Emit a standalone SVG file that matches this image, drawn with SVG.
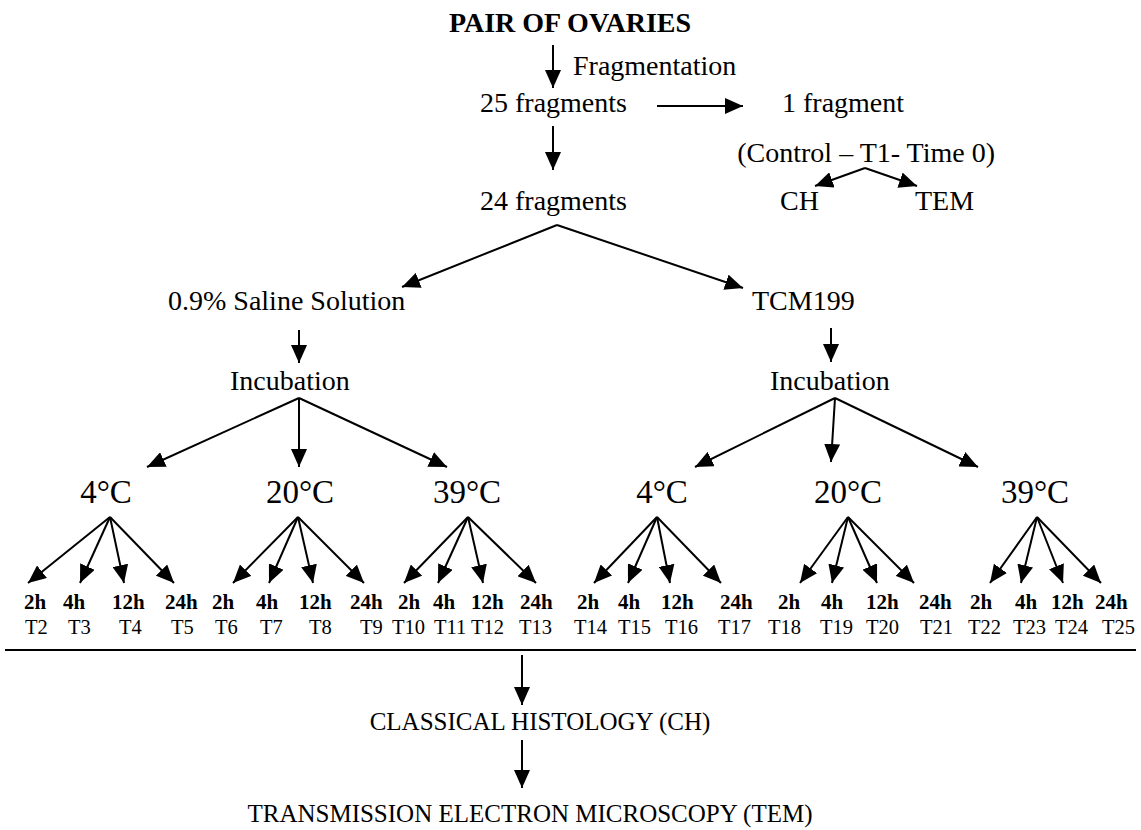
<svg xmlns="http://www.w3.org/2000/svg" width="1141" height="830" viewBox="0 0 1141 830">
<style>
text{font-family:"Liberation Serif","Times New Roman",serif;fill:#000}
.t{font-size:28px}
.ttl{font-size:28px;font-weight:bold}
.temp{font-size:33px;text-anchor:middle}
.h{font-size:21px;font-weight:bold}
.tl{font-size:20.5px}
.cap{font-size:25px;text-anchor:middle}
#connectors line{stroke:#000;stroke-width:2;marker-end:url(#ah)}
#rule{stroke:#000;stroke-width:2}
</style>
<defs>
<marker id="ah" markerUnits="userSpaceOnUse" markerWidth="18" markerHeight="16" refX="18" refY="8" orient="auto" viewBox="0 0 18 16"><path d="M0,0 L18,8 L0,16 z" fill="#000"/></marker>
</defs>
<rect width="1141" height="830" fill="#fff"/>
<g id="n-title"><text class="ttl" x="570" y="32" text-anchor="middle">PAIR OF OVARIES</text></g>
<g id="l-frag"><text class="t" x="573" y="75">Fragmentation</text></g>
<g id="n-25"><text class="t" x="480" y="112">25 fragments</text></g>
<g id="n-1"><text class="t" x="782" y="112">1 fragment</text></g>
<g id="n-control"><text class="t" x="995" y="162" text-anchor="end">(Control – T1- Time 0)</text></g>
<g id="n-ch0"><text class="t" x="780" y="210">CH</text></g>
<g id="n-tem0"><text class="t" x="915" y="210">TEM</text></g>
<g id="n-24"><text class="t" x="480" y="210">24 fragments</text></g>
<g id="n-saline"><text class="t" x="168" y="310">0.9% Saline Solution</text></g>
<g id="n-tcm"><text class="t" x="752" y="310">TCM199</text></g>
<g id="n-inc1"><text class="t" x="230" y="390">Incubation</text></g>
<g id="n-inc2"><text class="t" x="770" y="390">Incubation</text></g>
<g id="n-temps">
<text class="temp" x="106" y="503">4°C</text>
<text class="temp" x="300" y="503">20°C</text>
<text class="temp" x="467" y="503">39°C</text>
<text class="temp" x="662" y="503">4°C</text>
<text class="temp" x="848" y="503">20°C</text>
<text class="temp" x="1035" y="503">39°C</text>
</g>
<g id="n-hours">
<text class="h" x="24" y="609">2h</text><text class="h" x="63" y="609">4h</text><text class="h" x="112" y="609">12h</text><text class="h" x="165" y="609">24h</text>
<text class="h" x="212" y="609">2h</text><text class="h" x="256" y="609">4h</text><text class="h" x="299" y="609">12h</text><text class="h" x="350" y="609">24h</text>
<text class="h" x="398" y="609">2h</text><text class="h" x="433" y="609">4h</text><text class="h" x="471" y="609">12h</text><text class="h" x="520" y="609">24h</text>
<text class="h" x="577" y="609">2h</text><text class="h" x="618" y="609">4h</text><text class="h" x="661" y="609">12h</text><text class="h" x="720" y="609">24h</text>
<text class="h" x="778" y="609">2h</text><text class="h" x="821" y="609">4h</text><text class="h" x="866" y="609">12h</text><text class="h" x="919" y="609">24h</text>
<text class="h" x="970" y="609">2h</text><text class="h" x="1015" y="609">4h</text><text class="h" x="1051" y="609">12h</text><text class="h" x="1095" y="609">24h</text>
</g>
<g id="n-tlabels">
<text class="tl" x="25" y="634">T2</text><text class="tl" x="68" y="634">T3</text><text class="tl" x="119" y="634">T4</text><text class="tl" x="171" y="634">T5</text>
<text class="tl" x="215" y="634">T6</text><text class="tl" x="260" y="634">T7</text><text class="tl" x="309" y="634">T8</text><text class="tl" x="360" y="634">T9</text>
<text class="tl" x="392" y="634">T10</text><text class="tl" x="434" y="634">T11</text><text class="tl" x="471" y="634">T12</text><text class="tl" x="519" y="634">T13</text>
<text class="tl" x="574" y="634">T14</text><text class="tl" x="618" y="634">T15</text><text class="tl" x="665" y="634">T16</text><text class="tl" x="718" y="634">T17</text>
<text class="tl" x="768" y="634">T18</text><text class="tl" x="820" y="634">T19</text><text class="tl" x="866" y="634">T20</text><text class="tl" x="920" y="634">T21</text>
<text class="tl" x="968" y="634">T22</text><text class="tl" x="1013" y="634">T23</text><text class="tl" x="1055" y="634">T24</text><text class="tl" x="1102" y="634">T25</text>
</g>
<line id="rule" x1="5" y1="650" x2="1136" y2="650"/>
<g id="n-ch"><text class="cap" x="540" y="730">CLASSICAL HISTOLOGY (CH)</text></g>
<g id="n-tem"><text class="cap" x="530" y="822">TRANSMISSION ELECTRON MICROSCOPY (TEM)</text></g>
<g id="connectors">
<line x1="553" y1="45" x2="553" y2="88"/>
<line x1="657" y1="106" x2="743" y2="106"/>
<line x1="553" y1="126" x2="553" y2="170"/>
<line x1="865" y1="168" x2="815" y2="186"/>
<line x1="865" y1="168" x2="917" y2="186"/>
<line x1="557" y1="225" x2="402" y2="287"/>
<line x1="557" y1="225" x2="743" y2="288"/>
<line x1="299" y1="330" x2="299" y2="363"/>
<line x1="831" y1="328" x2="831" y2="362"/>
<line x1="299" y1="398" x2="147" y2="467"/>
<line x1="299" y1="398" x2="299" y2="467"/>
<line x1="299" y1="398" x2="447" y2="467"/>
<line x1="835" y1="398" x2="695" y2="467"/>
<line x1="835" y1="398" x2="831" y2="462"/>
<line x1="835" y1="398" x2="978" y2="467"/>
<line x1="110" y1="517" x2="28" y2="583"/>
<line x1="110" y1="517" x2="80" y2="583"/>
<line x1="110" y1="517" x2="124" y2="583"/>
<line x1="110" y1="517" x2="174" y2="583"/>
<line x1="298" y1="517" x2="233" y2="583"/>
<line x1="298" y1="517" x2="269" y2="583"/>
<line x1="298" y1="517" x2="313" y2="583"/>
<line x1="298" y1="517" x2="364" y2="583"/>
<line x1="468" y1="517" x2="404" y2="583"/>
<line x1="468" y1="517" x2="438" y2="583"/>
<line x1="468" y1="517" x2="483" y2="583"/>
<line x1="468" y1="517" x2="536" y2="583"/>
<line x1="657" y1="517" x2="594" y2="583"/>
<line x1="657" y1="517" x2="628" y2="583"/>
<line x1="657" y1="517" x2="670" y2="583"/>
<line x1="657" y1="517" x2="721" y2="583"/>
<line x1="848" y1="517" x2="800" y2="583"/>
<line x1="848" y1="517" x2="832" y2="583"/>
<line x1="848" y1="517" x2="877" y2="583"/>
<line x1="848" y1="517" x2="914" y2="583"/>
<line x1="1037" y1="517" x2="990" y2="583"/>
<line x1="1037" y1="517" x2="1021" y2="583"/>
<line x1="1037" y1="517" x2="1063" y2="583"/>
<line x1="1037" y1="517" x2="1101" y2="583"/>
<line x1="522" y1="655" x2="522" y2="705"/>
<line x1="522" y1="740" x2="522" y2="788"/>
</g>
</svg>
